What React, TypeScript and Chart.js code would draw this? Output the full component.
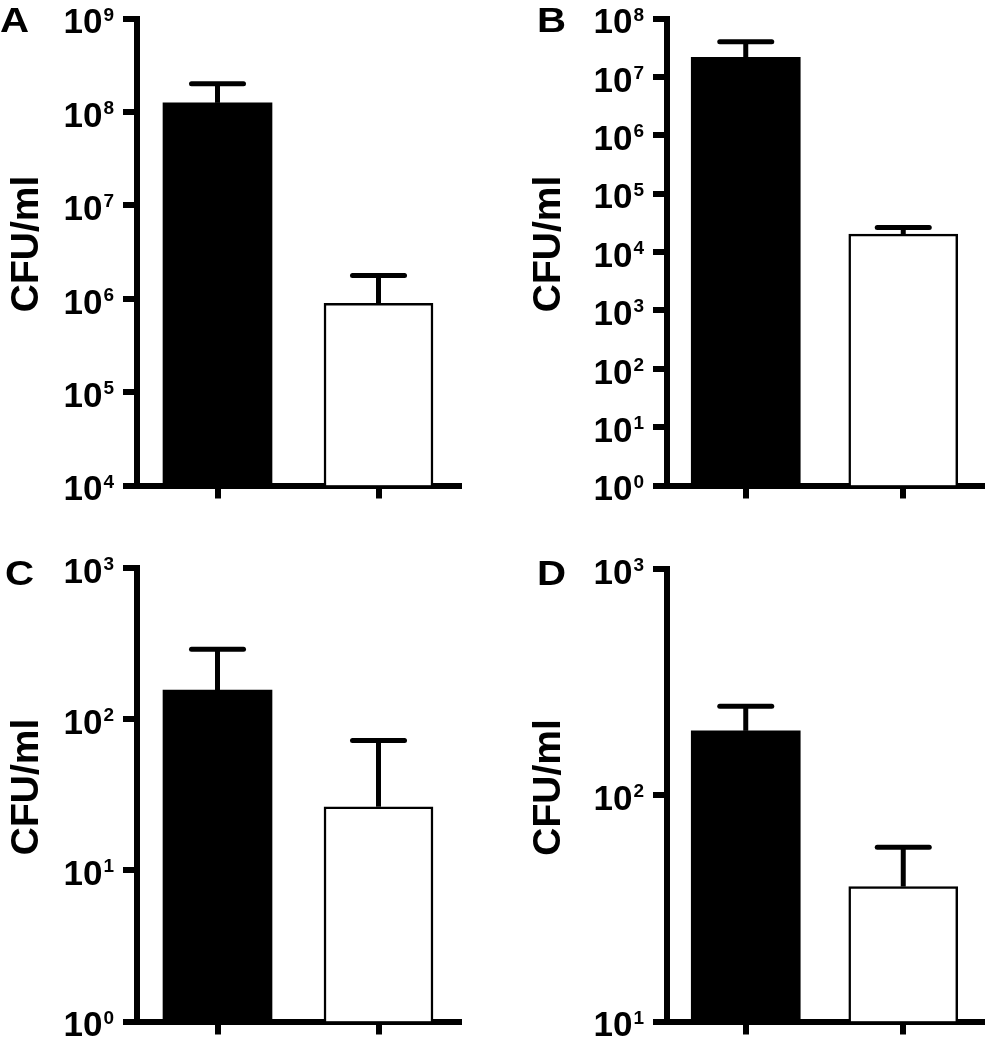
import React, { useEffect, useRef } from 'react';
import { Chart, registerables } from 'chart.js';

Chart.register(...registerables);

const FONT = '"Liberation Sans", Arial, Helvetica, sans-serif';

// ---------- data ----------
const categories = ['Group 1', 'Group 2'];
const panelLetters = ['A', 'B', 'C', 'D'];
const yAxisTitle = 'CFU/ml';
const barFills = ['#000000', '#ffffff'];
const barBorders = [0, 2.5];

const meansA = [1.25e8, 8.9e5];
const upperA = [2.0e8, 1.77e6];
const ticksA = [1e4, 1e5, 1e6, 1e7, 1e8, 1e9];

const meansB = [2.17e7, 2.02e4];
const upperB = [4.0e7, 2.62e4];
const ticksB = [1e0, 1e1, 1e2, 1e3, 1e4, 1e5, 1e6, 1e7, 1e8];

const meansC = [156, 26.4];
const upperC = [291, 72.4];
const ticksC = [1e0, 1e1, 1e2, 1e3];

const meansD = [193, 39.5];
const upperD = [248, 59];
const ticksD = [1e1, 1e2, 1e3];

// ---------- layout ----------
type Geo = {
  left: number; top: number; width: number; height: number;
  yw: number; padRight: number; padTop: number; xh: number;
  titleX: number; letterX: number; letterY: number;
};

const geoA: Geo = { left: 0, top: 0, width: 495, height: 530, yw: 137, padRight: 36, padTop: 18.5, xh: 44.5, titleX: 37.5, letterX: 0, letterY: 32 };
const geoB: Geo = { left: 495, top: 0, width: 495, height: 530, yw: 172, padRight: 8, padTop: 18.5, xh: 44.5, titleX: 65, letterX: 42, letterY: 32 };
const geoC: Geo = { left: 0, top: 535, width: 495, height: 515, yw: 137, padRight: 36, padTop: 33.3, xh: 28.5, titleX: 37.5, letterX: 5, letterY: 50 };
const geoD: Geo = { left: 495, top: 535, width: 495, height: 515, yw: 172, padRight: 8, padTop: 34.3, xh: 28.5, titleX: 65, letterX: 42, letterY: 50 };

function makeDecor(letter: string, upper: number[], geo: Geo) {
  return {
    id: 'panelDecor',
    afterDatasetsDraw(chart: any) {
      const ctx = chart.ctx;
      const ys = chart.scales.y;
      const meta = chart.getDatasetMeta(0);
      ctx.save();
      ctx.strokeStyle = '#000';
      ctx.lineWidth = 5;
      meta.data.forEach((bar: any, i: number) => {
        const yTop = ys.getPixelForValue(upper[i]);
        ctx.lineCap = 'butt';
        ctx.beginPath();
        ctx.moveTo(bar.x, bar.y);
        ctx.lineTo(bar.x, yTop);
        ctx.stroke();
        ctx.lineCap = 'round';
        ctx.beginPath();
        ctx.moveTo(bar.x - 26, yTop);
        ctx.lineTo(bar.x + 26, yTop);
        ctx.stroke();
      });
      ctx.restore();
    },
    afterDraw(chart: any) {
      const ctx = chart.ctx;
      const ys = chart.scales.y;
      const area = chart.chartArea;
      ctx.save();
      ctx.fillStyle = '#000';
      ctx.textAlign = 'left';
      ctx.textBaseline = 'alphabetic';
      const baseFont = `bold 35px ${FONT}`;
      const expFont = `bold 19px ${FONT}`;
      const rightEdge = area.left - 23;
      ys.ticks.forEach((t: any) => {
        const y = ys.getPixelForValue(t.value);
        const exp = String(Math.round(Math.log10(t.value)));
        ctx.font = expFont;
        const ew = ctx.measureText(exp).width;
        ctx.font = baseFont;
        const bw = ctx.measureText('10').width;
        const x0 = rightEdge - ew - bw - 1;
        ctx.fillText('10', x0, y + 14.8);
        ctx.font = expFont;
        ctx.fillText(exp, x0 + bw + 1, y + 2);
      });
      // axis title
      ctx.save();
      ctx.font = `bold 39px ${FONT}`;
      ctx.textAlign = 'center';
      ctx.translate(geo.titleX, (area.top + area.bottom) / 2 - 8);
      ctx.rotate(-Math.PI / 2);
      ctx.fillText(yAxisTitle, 0, 0);
      ctx.restore();
      // panel letter
      ctx.save();
      ctx.font = `bold 35px ${FONT}`;
      ctx.textAlign = 'left';
      ctx.translate(geo.letterX, geo.letterY);
      ctx.scale(1.15, 1);
      ctx.fillText(letter, 0, 0);
      ctx.restore();
      ctx.restore();
    },
  };
}

function Panel({ letter, means, upper, ticks, geo }: { letter: string; means: number[]; upper: number[]; ticks: number[]; geo: Geo }) {
  const ref = useRef<HTMLCanvasElement | null>(null);
  useEffect(() => {
    if (!ref.current) return;
    const axisGrid = (len: number) => ({
      display: true,
      drawOnChartArea: false,
      drawTicks: true,
      tickLength: len,
      lineWidth: 6,
      color: '#000',
      offset: false,
    });
    const chart = new Chart(ref.current, {
      type: 'bar',
      data: {
        labels: categories,
        datasets: [
          {
            data: means,
            backgroundColor: barFills,
            borderColor: '#000',
            borderWidth: barBorders,
            barThickness: 109,
          },
        ],
      },
      options: {
        responsive: false,
        animation: false,
        devicePixelRatio: 1,
        events: [],
        layout: { padding: { left: 0, top: geo.padTop, right: geo.padRight, bottom: 0 } },
        plugins: { legend: { display: false }, tooltip: { enabled: false }, title: { display: false } },
        scales: {
          x: {
            type: 'category',
            offset: true,
            z: 1,
            grid: axisGrid(13),
            border: { display: true, width: 6, color: '#000' },
            ticks: { display: false },
            afterFit: (s: any) => { s.height = geo.xh; },
          },
          y: {
            type: 'logarithmic',
            min: ticks[0],
            max: ticks[ticks.length - 1],
            z: 1,
            grid: axisGrid(14),
            border: { display: true, width: 6, color: '#000' },
            ticks: { display: false },
            afterBuildTicks: (s: any) => { s.ticks = ticks.map((v) => ({ value: v })); },
            afterFit: (s: any) => { s.width = geo.yw; },
          },
        },
      } as any,
      plugins: [makeDecor(letter, upper, geo)],
    });
    return () => chart.destroy();
  }, []);
  return (
    <div style={{ position: 'absolute', left: geo.left, top: geo.top, width: geo.width, height: geo.height }}>
      <canvas ref={ref} width={geo.width} height={geo.height} style={{ display: 'block' }} />
    </div>
  );
}

export default function App() {
  return (
    <div style={{ position: 'absolute', left: 0, top: 0, width: 990, height: 1050, background: '#fff', overflow: 'hidden' }}>
      <Panel letter={panelLetters[0]} means={meansA} upper={upperA} ticks={ticksA} geo={geoA} />
      <Panel letter={panelLetters[1]} means={meansB} upper={upperB} ticks={ticksB} geo={geoB} />
      <Panel letter={panelLetters[2]} means={meansC} upper={upperC} ticks={ticksC} geo={geoC} />
      <Panel letter={panelLetters[3]} means={meansD} upper={upperD} ticks={ticksD} geo={geoD} />
    </div>
  );
}
